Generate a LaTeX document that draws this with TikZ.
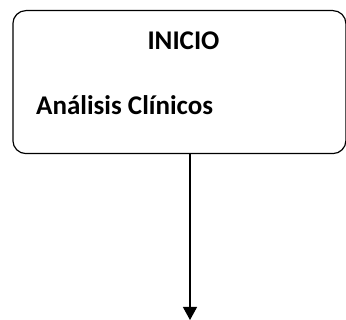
\documentclass[tikz,border=0pt]{standalone}
\usepackage{fontspec}
\setmainfont{Carlito}
\usetikzlibrary{arrows.meta}
\begin{document}
\begin{tikzpicture}[x=1pt,y=-1pt,
  box/.style={draw, line width=1.2pt, rounded corners=13pt},
  lbl/.style={font=\fontsize{27}{32}\selectfont\bfseries, inner sep=0pt},
  conn/.style={line width=1.2pt, -{Triangle[width=14pt,length=13pt]}}]
\useasboundingbox (0,0) rectangle (346,320);
\node[box, minimum width=333pt, minimum height=143pt, anchor=north west] (start) at (12.3,10) {};
\node[lbl, anchor=base] (t1) at (183.5,50) {INICIO};
\node[lbl, anchor=base west] (t2) at (36,115) {Análisis Clínicos};
\coordinate (end) at (190,320);
\draw[conn] (start.south -| end) -- (end);
\end{tikzpicture}
\end{document}
